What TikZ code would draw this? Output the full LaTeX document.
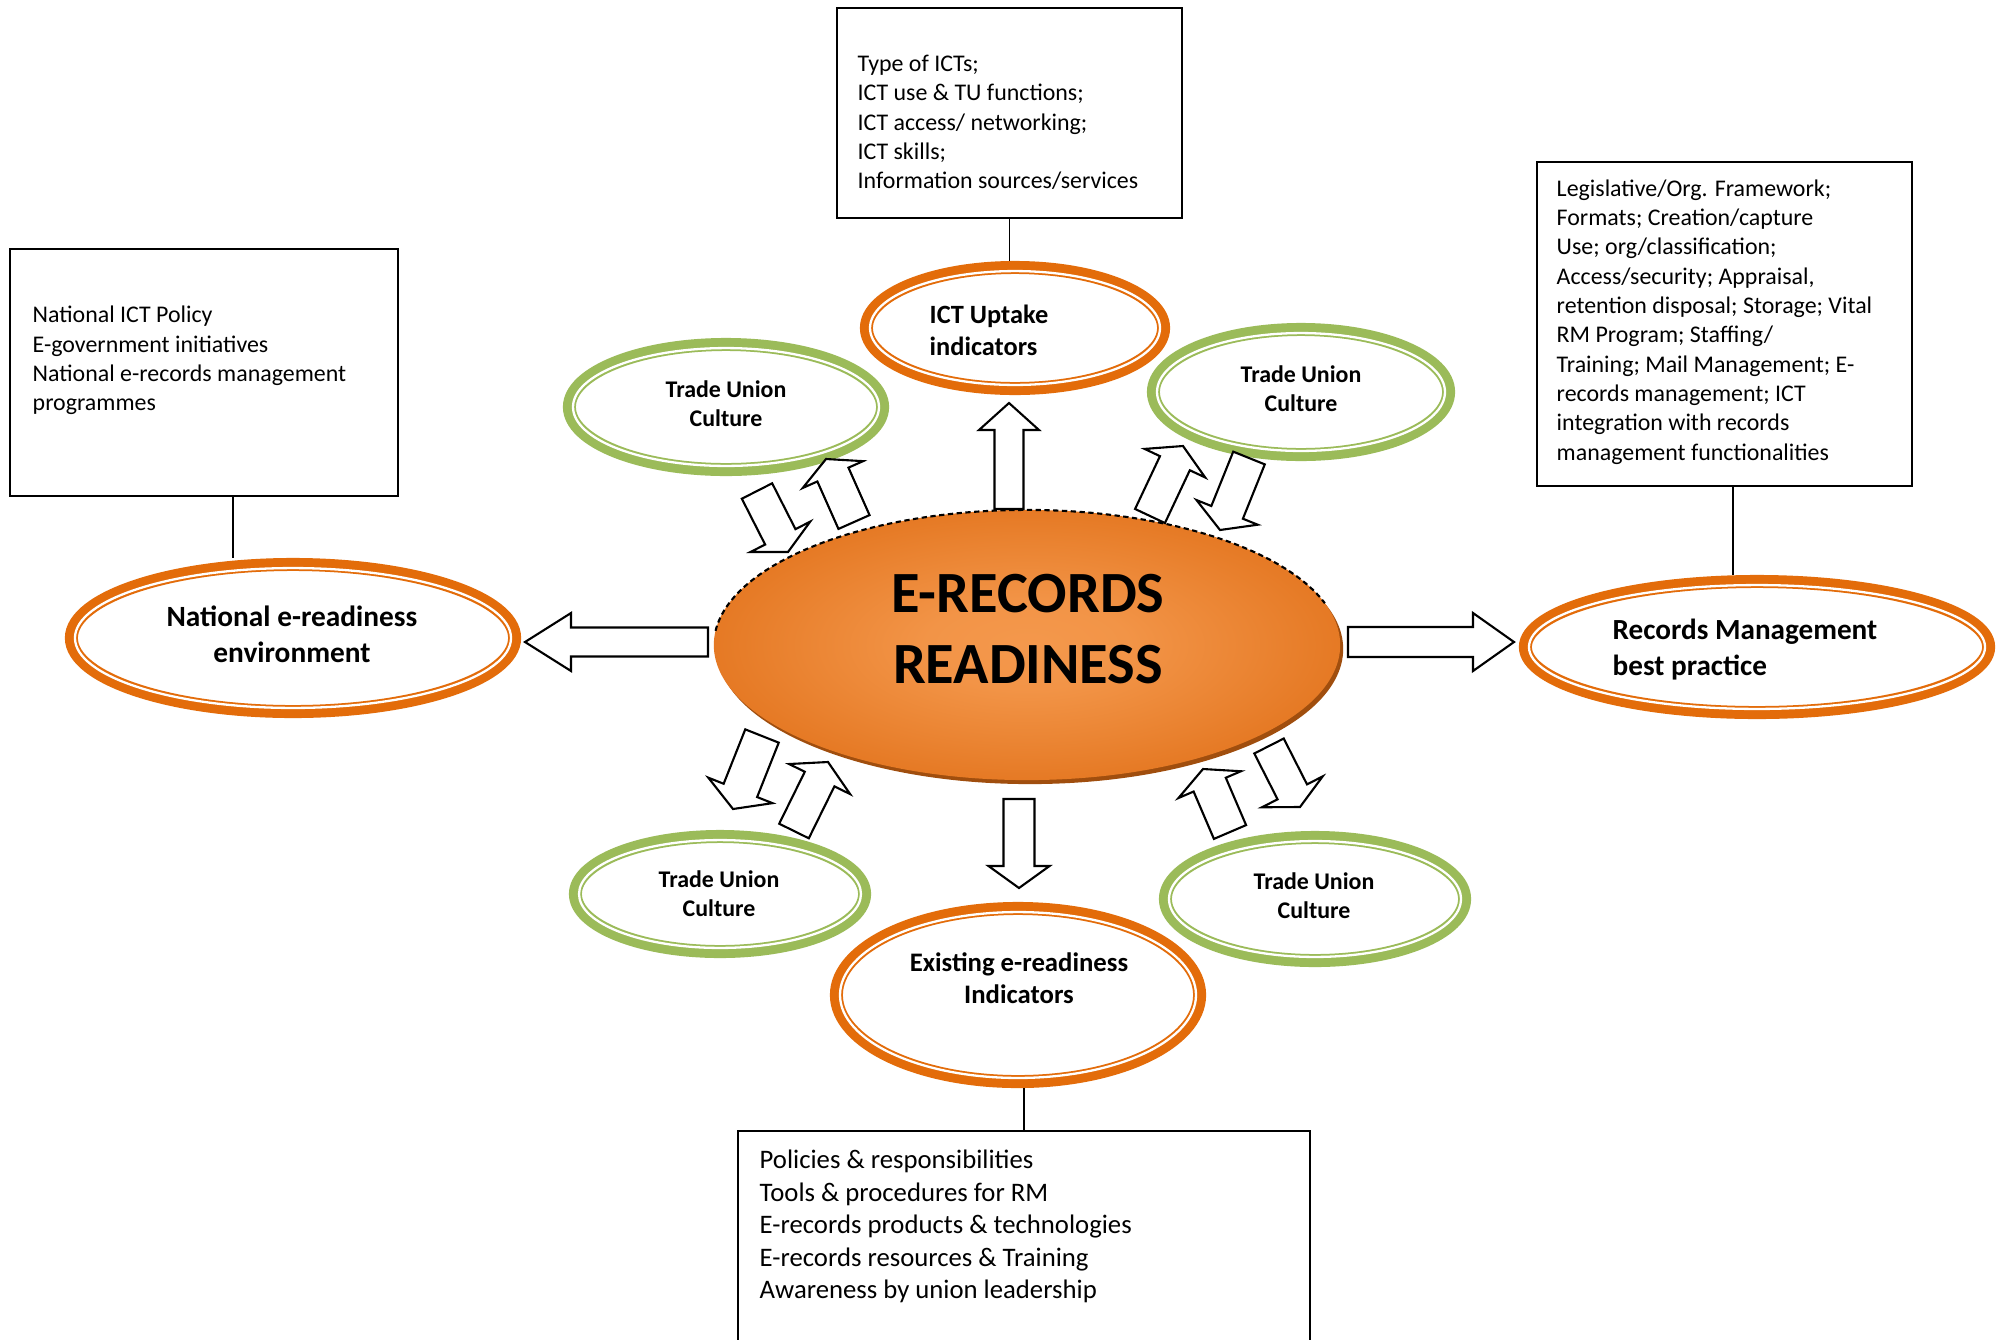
\documentclass[tikz,border=0pt]{standalone}
\usepackage{fontspec}
\setmainfont{Carlito}
\usetikzlibrary{shapes.geometric,calc}
\definecolor{orng}{RGB}{227,108,10}
\definecolor{grn}{RGB}{155,187,89}
\definecolor{corein}{RGB}{244,152,76}
\definecolor{coreout}{RGB}{221,104,14}
\definecolor{coreshadow}{RGB}{160,78,14}
\pgfdeclareradialshading{coreshade}{\pgfpoint{0bp}{0bp}}{color(0bp)=(corein); color(8bp)=(corein!92!coreout); color(36bp)=(coreout); color(50bp)=(coreout)}
\tikzset{
  ringbase/.style={ellipse, inner sep=0, line width=0.13cm},
  barrow/.style={draw=black, fill=white, line width=0.6pt, line join=miter},
  infobox/.style={draw=black, line width=0.55pt, inner sep=0, fill=white},
  boxtxt/.style={font=\fontsize{6.8}{8.34}\selectfont, align=left, inner sep=0, anchor=west},
  lbl/.style 2 args={font=\bfseries\fontsize{#1}{#2}\selectfont, align=center, inner sep=0},
  link/.style={draw=black, line width=0.45pt}
}
\newcommand\ringnode[6]{% name, center, rx(cm), ry(cm), colour
  \node[ringbase, draw=#5, minimum width={2*#3cm}, minimum height={2*#4cm}] (#1) at (#2) {};
  \draw[white, line width=0.023cm] (#1.center) ellipse [x radius={(#3-0.036)*1cm}, y radius={(#4-0.036)*1cm}];
}
\newcommand\blockarrow[6]{% name, tail, tip, shaft half, head half, head length
  \coordinate (#1t) at (#2);
  \coordinate (#1p) at (#3);
  \coordinate (#1h) at ($(#1p)!#6!(#1t)$);
  \draw[barrow] ($(#1t)!#4!90:(#1p)$) -- ($(#1h)!#4!-90:(#1t)$) -- ($(#1h)!#5!-90:(#1t)$) -- (#1p) -- ($(#1h)!#5!90:(#1t)$) -- ($(#1h)!#4!90:(#1t)$) -- ($(#1t)!#4!-90:(#1p)$) -- cycle;
}
\begin{document}
\begin{tikzpicture}[x=0.01cm, y=-0.01cm]
\useasboundingbox (0,0) rectangle (2000,1339);
\fill[white] (0,0) rectangle (2000,1339);

% info boxes
\node[infobox, minimum width=3.45cm, minimum height=2.10cm] (tbox) at (1009.5,113) {};
\node[infobox, minimum width=3.88cm, minimum height=2.47cm] (lbox) at (204,372.5) {};
\node[infobox, minimum width=3.75cm, minimum height=3.24cm] (rbox) at (1724.5,324) {};
\node[infobox, minimum width=5.72cm, minimum height=2.29cm] (bbox) at (1024,1245.5) {};

\node[boxtxt] (tboxtxt) at (857,122.5) {Type of ICTs;\\ICT use \& TU functions;\\ICT access/ networking;\\ICT skills;\\Information sources/services};
\node[boxtxt] (lboxtxt) at (32,360.5) {National ICT Policy\\E-government initiatives\\National e-records management\\programmes};
\node[boxtxt] (rboxtxt) at (1556,322) {Legislative/Org. Framework;\\Formats; Creation/capture\\Use; org/classification;\\Access/security; Appraisal,\\retention disposal; Storage; Vital\\RM Program; Staffing/\\Training; Mail Management; E-\\records management; ICT\\integration with records\\management functionalities};
\node[boxtxt, font=\fontsize{7.6}{9.25}\selectfont] (bboxtxt) at (759,1226.5) {Policies \& responsibilities\\Tools \& procedures for RM\\E-records products \& technologies\\E-records resources \& Training\\Awareness by union leadership};

% central ellipse
\node[ellipse, inner sep=0, minimum width=6.26cm, minimum height=2.70cm, fill=coreshadow] (coreshd) at (1030,649) {};
\node[ellipse, inner sep=0, minimum width=6.26cm, minimum height=2.70cm, shading=coreshade] (core) at (1027,645) {};
\draw[black, line width=0.6pt, dash pattern=on 1.5pt off 1pt] ($(core.center)+(174:3.13cm and 1.35cm)$) arc [start angle=174, end angle=18, x radius=3.13cm, y radius=1.35cm];
\node[lbl={16.6}{20.3}] (coretxt) at (1028,629) {E-RECORDS\\READINESS};

% ring ellipses
\ringnode{ict}{1015,328}{1.485}{0.605}{orng}{}
\ringnode{tutl}{726,407}{1.565}{0.625}{grn}{}
\ringnode{tutr}{1301,392}{1.475}{0.625}{grn}{}
\ringnode{tubl}{720,894}{1.445}{0.575}{grn}{}
\ringnode{tubr}{1315,899}{1.495}{0.615}{grn}{}
\ringnode{exist}{1018,995}{1.815}{0.865}{orng}{}
\ringnode{natl}{293,638}{2.215}{0.735}{orng}{}
\ringnode{rmbp}{1757,647}{2.315}{0.655}{orng}{}

\node[lbl={7.5}{9.1}, align=left, anchor=west] (icttxt) at (929,330) {ICT Uptake\\indicators};
\node[lbl={6.8}{8.3}] (tutltxt) at (726,404) {Trade Union\\Culture};
\node[lbl={6.8}{8.3}] (tutrtxt) at (1301,389) {Trade Union\\Culture};
\node[lbl={6.8}{8.3}] (tubltxt) at (719,894) {Trade Union\\Culture};
\node[lbl={6.8}{8.3}] (tubrtxt) at (1314,895.5) {Trade Union\\Culture};
\node[lbl={7.6}{9.1}] (existtxt) at (1019,978) {Existing e-readiness\\Indicators};
\node[lbl={8.35}{10.2}] (natltxt) at (292,634) {National e-readiness\\environment};
\node[lbl={8.3}{10.2}, align=left, anchor=west] (rmbptxt) at (1612,649.5) {Records Management\\best practice};

% connectors
\draw[link] (tbox.south) -- (tbox.south |- ict.north);
\coordinate (lconn) at ($(lbox.south west)!0.575!(lbox.south east)$);
\draw[link] (lconn) -- (lconn |- natl.north);
\coordinate (rconn) at ($(rbox.south west)!0.523!(rbox.south east)$);
\draw[link] (rconn) -- (rconn |- rmbp.north);
\draw[link] (exist.south -| bbox.north) -- (bbox.north);

% block arrows
\blockarrow{aL}{708,642}{525,642}{0.145cm}{0.29cm}{0.46cm}
\blockarrow{aR}{1348,642}{1514,642}{0.15cm}{0.29cm}{0.41cm}
\blockarrow{aU}{1009,509}{1009,403}{0.145cm}{0.30cm}{0.27cm}
\blockarrow{aD}{1019,799}{1019,888}{0.155cm}{0.305cm}{0.22cm}
\blockarrow{d1}{757,491}{788,552}{0.17cm}{0.335cm}{0.17cm}
\blockarrow{d2}{854,522}{826,459}{0.17cm}{0.33cm}{0.17cm}
\blockarrow{d3}{1150,516}{1183,446}{0.165cm}{0.335cm}{0.19cm}
\blockarrow{d4}{1249,458}{1220,530}{0.17cm}{0.33cm}{0.19cm}
\blockarrow{d5}{762,736}{733,809}{0.18cm}{0.345cm}{0.20cm}
\blockarrow{d6}{794,831}{828,762}{0.165cm}{0.34cm}{0.19cm}
\blockarrow{d7}{1230,832}{1203,769}{0.175cm}{0.34cm}{0.17cm}
\blockarrow{d8}{1269,746}{1300,807}{0.165cm}{0.34cm}{0.17cm}
\end{tikzpicture}
\end{document}
